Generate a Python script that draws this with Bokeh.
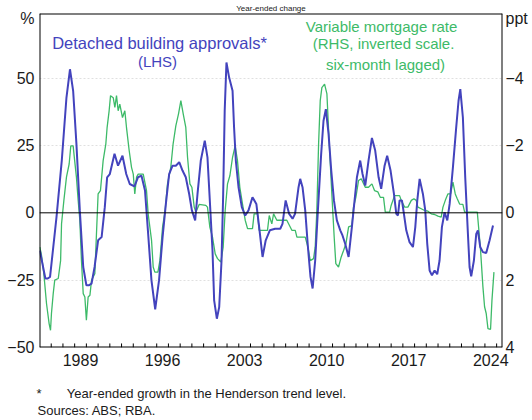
from bokeh.plotting import figure
from bokeh.models import Range1d, LinearAxis, FixedTicker, Label, Span, Title
from bokeh.embed import file_html
from bokeh.resources import INLINE

# ---------------- data ----------------
blue_year = [
    1986.03, 1986.5, 1986.7, 1986.9, 1987.45, 1987.9, 1988.3, 1988.6, 1988.87, 1989.15,
    1989.44, 1989.73, 1990.0, 1990.2, 1990.44, 1990.7, 1991.0, 1991.3, 1991.57, 1991.77,
    1992.0, 1992.4, 1992.7, 1993.08, 1993.4, 1993.7, 1994.1, 1994.4, 1994.7, 1995.0,
    1995.27, 1995.55, 1995.87, 1996.2, 1996.5, 1996.78, 1997.06, 1997.35, 1997.63, 1997.92,
    1998.2, 1998.48, 1998.77, 1999.0, 1999.28, 1999.48, 1999.76, 2000.1, 2000.33, 2000.53,
    2000.76, 2000.9, 2001.13, 2001.33, 2001.53, 2001.67, 2001.8, 2001.95, 2002.18, 2002.47,
    2002.6, 2002.75, 2002.98, 2003.26, 2003.55, 2003.83, 2004.17, 2004.5, 2004.74, 2005.03,
    2005.3, 2005.65, 2006.1, 2006.54, 2006.73, 2007.0, 2007.3, 2007.59, 2007.8, 2008.1,
    2008.24, 2008.44, 2008.67, 2008.9, 2009.12, 2009.3, 2009.52, 2009.75, 2010.03, 2010.23,
    2010.43, 2010.66, 2010.89, 2011.12, 2011.37, 2011.66, 2011.85, 2012.08, 2012.37, 2012.65,
    2012.88, 2013.08, 2013.36, 2013.56, 2013.79, 2014.07, 2014.36, 2014.64, 2014.93, 2015.15,
    2015.44, 2015.66, 2015.95, 2016.24, 2016.44, 2016.58, 2016.72, 2016.92, 2017.09, 2017.29,
    2017.57, 2017.86, 2018.06, 2018.23, 2018.43, 2018.71, 2018.91, 2019.08, 2019.28, 2019.48,
    2019.71, 2019.93, 2020.13, 2020.33, 2020.56, 2020.79, 2020.99, 2021.27, 2021.55, 2021.75,
    2021.9, 2022.12, 2022.32, 2022.55, 2022.69, 2022.83, 2023.06, 2023.26, 2023.4, 2023.6,
    2023.83, 2024.11, 2024.4, 2024.69,
]
blue_pct = [
    -14, -24.4, -24.4, -23.8, -1.6, 19.4, 42.8, 53.3, 45.3, 25.6,
    0.9, -20.1, -26.9, -26.9, -26.3, -20.1, -10.2, -9, 2.1, 13.2,
    14.4, 21.9, 17.5, 21.2, 14.4, 10.7, 9.8, 13.2, 13.8, 8.3,
    -7.8, -25, -35.8, -25, -9, 3.3, 14.4, 17.5, 17.5, 18.8,
    15.7, 13.2, 7, 0.9, -2.8, 7, 19.4, 26.8, 20.6, 4.6,
    -14, -32.5, -39.3, -35, -17.7, 7, 37.9, 55.8, 50.2, 45.3,
    31.7, 19.4, 9.5, 2.1, -1, 0.9, 5.8, 3.3, -5.3, -16.4,
    -10.2, -6.5, -5.9, -5.9, -4.1, 4.6, -0.4, -2.2, -0.4, 9.5,
    12.6, 9.5, 0.9, -12.7, -23.8, -28.1, -17.7, 0.9, 21.9, 34.2,
    38.5, 29.3, 15.7, 4.6, -2.8, -6.5, -8.4, -11.5, -16.4, -5.3,
    4.6, 13.2, 19.4, 14.4, 10.1, 19.4, 27.8, 23.1, 13.2, 8.9,
    17.5, 21.2, 15.7, 7, -0.4, -1, 4.6, 4.6, -0.4, -6.5,
    -10.9, -12.7, -5.3, 4.6, 12.6, 7, 0.9, -11.5, -21.4, -23.2,
    -21.4, -22.8, -17.7, -5.3, 0.2, -2.8, 3.3, 16.9, 31.7, 41.6,
    45.9, 35.4, 13.2, -7.8, -20.1, -23.6, -17.7, -7.8, -6.5, -12.7,
    -14.6, -14.9, -10.2, -4.7,
]

green_year = [
    1986.03, 1986.17, 1986.37, 1986.6, 1986.82, 1986.94, 1987.02, 1987.17, 1987.3, 1987.6,
    1987.8, 1987.88, 1988.08, 1988.3, 1988.53, 1988.67, 1988.87, 1989.0, 1989.15, 1989.3,
    1989.44, 1989.58, 1989.73, 1989.87, 1990.0, 1990.15, 1990.3, 1990.44, 1990.72, 1990.86,
    1991.0, 1991.2, 1991.43, 1991.66, 1991.77, 1991.94, 1992.06, 1992.29, 1992.43, 1992.57,
    1992.71, 1992.85, 1993.08, 1993.28, 1993.42, 1993.65, 1993.85, 1994.0, 1994.13, 1994.28,
    1994.42, 1994.85, 1995.13, 1995.27, 1995.56, 1995.7, 1995.84, 1996.1, 1996.27, 1996.5,
    1996.72, 1996.92, 1997.2, 1997.4, 1997.63, 1997.86, 1998.06, 1998.26, 1998.48, 1998.63,
    1998.83, 1999.0, 1999.2, 1999.34, 1999.62, 2000.19, 2000.33, 2000.53, 2000.76, 2000.99,
    2001.19, 2001.47, 2001.67, 2001.84, 2002.04, 2002.24, 2002.47, 2002.69, 2002.89, 2003.09,
    2003.32, 2003.55, 2003.75, 2004.17, 2004.31, 2004.6, 2004.74, 2005.45, 2005.6, 2005.82,
    2005.97, 2006.25, 2007.1, 2007.53, 2007.82, 2007.96, 2008.67, 2008.9, 2009.1, 2009.38,
    2009.52, 2009.66, 2009.81, 2009.95, 2010.09, 2010.32, 2010.52, 2010.72, 2010.94, 2011.14,
    2011.28, 2011.51, 2011.74, 2011.94, 2012.14, 2012.37, 2012.65, 2012.79, 2012.99, 2013.22,
    2013.45, 2013.79, 2014.07, 2014.36, 2014.58, 2014.87, 2015.07, 2015.35, 2015.5, 2015.87,
    2016.0, 2016.29, 2016.72, 2016.86, 2017.15, 2017.43, 2017.72, 2017.94, 2018.14, 2018.28,
    2018.57, 2018.85, 2019.14, 2019.42, 2019.71, 2019.99, 2020.27, 2020.42, 2020.62, 2020.84,
    2021.07, 2021.27, 2021.47, 2021.64, 2021.84, 2022.12, 2022.27, 2023.35, 2023.46, 2023.63,
    2023.83, 2023.97, 2024.11, 2024.26, 2024.48, 2024.6, 2024.77,
]
green_ppt = [
    1.02, 1.26, 1.81, 2.70, 3.29, 3.49, 2.99, 2.40, 2.00, 1.95,
    1.42, 0.33, -0.37, -1.06, -1.45, -1.99, -1.99, -1.55, -1.06, -0.37,
    0.22, 1.42, 2.40, 2.50, 3.19, 2.50, 2.45, 2.00, 1.81, 0.62,
    -0.56, -0.66, -1.55, -2.05, -2.54, -3.03, -3.48, -3.42, -3.13, -3.48,
    -3.03, -3.23, -2.83, -3.03, -2.54, -1.85, -1.35, -1.15, -0.56, -1.06,
    -1.15, -1.15, -0.66, 0.03, 0.82, 1.61, 1.76, 1.76, 1.42, 0.42,
    -0.07, -0.86, -1.35, -2.05, -2.58, -2.94, -3.33, -2.94, -2.54, -1.65,
    -0.86, -0.76, -0.17, -0.02, -0.25, -0.22, -0.17, 0.42, 0.72, 1.22,
    1.36, 1.46, 1.02, -0.07, -0.86, -1.10, -1.65, -1.99, -1.55, -0.76,
    -0.26, 0.22, 0.47, 0.47, 0.03, 0.03, 0.52, 0.52, 0.08, 0.33,
    0.03, 0.22, 0.22, 0.52, 0.52, 0.72, 0.72, 1.02, 1.42, 1.36,
    1.02, -0.07, -2.05, -3.33, -3.72, -3.82, -3.53, -2.05, -0.56, 0.72,
    1.51, 1.61, 1.31, 1.12, 0.92, 0.42, 0.38, -0.17, -0.46, -0.96,
    -1.01, -0.76, -0.76, -0.86, -0.66, -0.62, -0.46, -0.46, -0.02, -0.02,
    -0.22, -0.51, -0.51, -0.37, -0.17, -0.17, -0.37, -0.42, -0.37, -0.17,
    -0.12, -0.07, -0.05, 0.03, 0.05, 0.10, 0.13, -0.17, -0.37, -0.56,
    -0.56, -0.91, -0.56, -0.42, -0.26, -0.25, -0.02, -0.02, 0.42, 1.12,
    2.20, 2.79, 2.99, 3.44, 3.46, 2.60, 1.76,
]

year_labels = ["1989", "1996", "2003", "2010", "2017", "2024"]
tick_years = list(range(1987, 2026))
left_ticks = [-50, -25, 0, 25, 50]
right_ticks = [-4, -2, 0, 2, 4]

# ---------------- styling ----------------
BLUE = "#4343bd"
GREEN = "#3dba68"
FONT = "Liberation Sans"
TXT = "#1a1a1a"

X0, X1 = 1986, 2025.5
Y0, Y1 = -50, 74
TICK = 1.5  # tick length in % units (about 4 px)

p = figure(width=532, height=420,
           x_range=Range1d(X0, X1), y_range=Range1d(Y0, Y1),
           output_backend="svg", toolbar_location=None,
           min_border_left=39, min_border_right=30,
           min_border_top=13, min_border_bottom=73)
p.background_fill_color = None
p.border_fill_color = None
p.outline_line_color = None

p.extra_y_ranges = {"ppt": Range1d(4, -Y1 / 12.5)}

# x axis: labels mid-year (ticks drawn below as marks at the year boundaries)
label_pos = [int(s) + 0.5 for s in year_labels]
p.xaxis.ticker = FixedTicker(ticks=label_pos, minor_ticks=[])
p.xaxis.major_label_overrides = {pos: s for pos, s in zip(label_pos, year_labels)}
p.xaxis.major_label_standoff = 6

# unit labels "%" / "ppt" sit just below the top of each y axis
pct_pos = 72.3
ppt_pos = -pct_pos / 12.5
p.yaxis.ticker = FixedTicker(ticks=left_ticks + [pct_pos])
p.yaxis.major_label_overrides = {pct_pos: "%"}
p.yaxis.major_label_standoff = 5

ra = LinearAxis(y_range_name="ppt", ticker=FixedTicker(ticks=right_ticks + [ppt_pos]))
ra.major_label_overrides = {ppt_pos: "ppt"}
ra.major_label_standoff = 3
p.add_layout(ra, "right")

for ax in [p.xaxis[0], p.yaxis[0], ra]:
    ax.axis_line_color = None
    ax.major_tick_line_color = None
    ax.minor_tick_line_color = None
    ax.major_tick_in = 0
    ax.major_tick_out = 0
    ax.major_label_text_font = FONT
    ax.major_label_text_font_size = "16px"
    ax.major_label_text_color = TXT

p.xgrid.visible = False
p.ygrid.ticker = FixedTicker(ticks=[-25, 25, 50])
p.ygrid.grid_line_color = "#e0e0e0"
p.ygrid.grid_line_dash = "2 2"

# zero line
p.add_layout(Span(location=0, dimension="width", line_color="black", line_width=1))

p.line(green_year, green_ppt, y_range_name="ppt", line_color=GREEN, line_width=1.3)
p.line(blue_year, blue_pct, line_color=BLUE, line_width=2)

# frame box and inward year ticks along the bottom
p.multi_line(xs=[[X0, X1], [X0, X1], [X0, X0], [X1, X1]],
             ys=[[Y0, Y0], [Y1, Y1], [Y0, Y1], [Y0, Y1]],
             line_color="black", line_width=2)
p.segment(x0=tick_years, y0=[Y0] * len(tick_years),
          x1=tick_years, y1=[Y0 + TICK] * len(tick_years),
          line_color="black", line_width=1)


def lab(text, x, y, size="16px", color=TXT, align="center"):
    p.add_layout(Label(x=x, y=y, x_units="screen", y_units="screen", text=text,
                       text_font=FONT, text_font_size=size, text_color=color,
                       text_align=align, text_baseline="middle"))


# positions are relative to the plot frame's bottom-left corner
lab("Detached building approvals*", 120, 305, size="16.5px", color=BLUE)
lab("(LHS)", 118, 286, size="15px", color=BLUE)
lab("Variable mortgage rate", 342, 321, size="15px", color=GREEN)
lab("(RHS, inverted scale.", 344, 304, size="15px", color=GREEN)
lab("six-month lagged)", 346, 283, size="15px", color=GREEN)

# chart heading (small, in the top strip)
p.add_layout(Title(text="Year-ended change", align="center", standoff=1,
                   text_font=FONT, text_font_size="8px", text_font_style="normal",
                   text_color=TXT), "above")

# footnotes below the axis
NB = "\u00a0"
spacer = Title(text=NB, standoff=4, text_font=FONT, text_font_size="8px")
foot1 = Title(text="*" + NB * 7 + "Year-ended growth in the Henderson trend level.",
              align="left", offset=-3, standoff=0,
              text_font=FONT, text_font_size="13px", text_font_style="normal",
              text_color=TXT)
foot2 = Title(text="Sources: ABS; RBA.", align="left", offset=-2, standoff=0,
              text_font=FONT, text_font_size="13px", text_font_style="normal",
              text_color=TXT)
p.add_layout(spacer, "below")
p.add_layout(foot1, "below")
p.add_layout(foot2, "below")

open("out.html", "w").write(file_html(p, INLINE))
